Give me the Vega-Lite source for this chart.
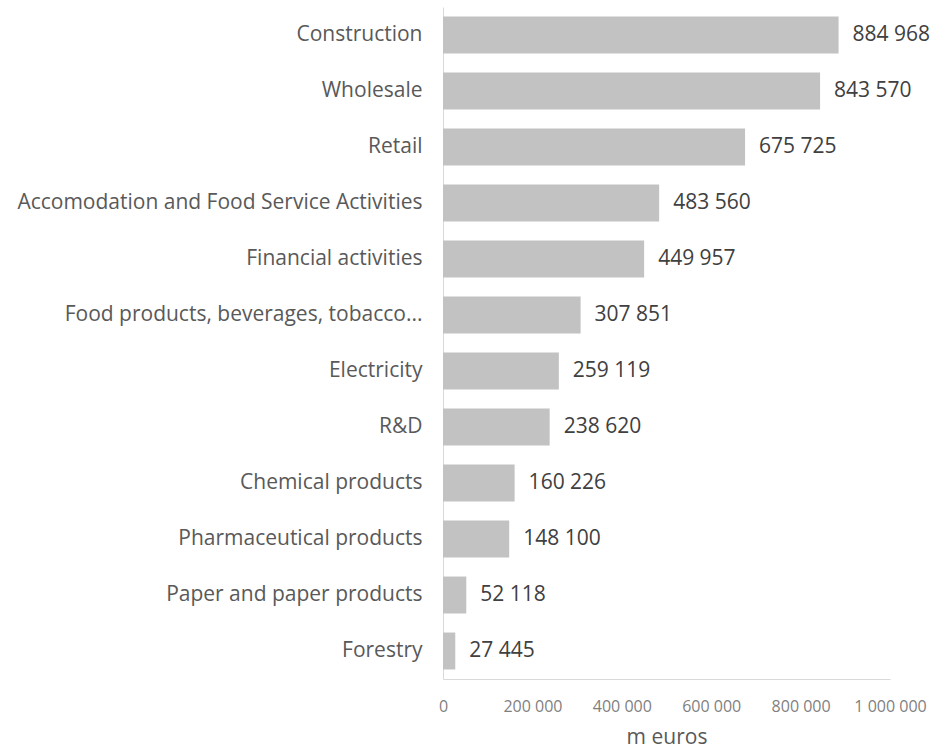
{
  "$schema": "https://vega.github.io/schema/vega-lite/v6.json",
  "autosize": {"type": "none"},
  "width": 447,
  "height": 672,
  "padding": {"left": 443, "top": 7, "right": 48, "bottom": 72},
  "background": "white",
  "config": {"view": {"stroke": null}, "font": "Open Sans"},
  "data": {"values": [
    {"sector": "Construction", "value": 884968, "label": "884 968"},
    {"sector": "Wholesale", "value": 843570, "label": "843 570"},
    {"sector": "Retail", "value": 675725, "label": "675 725"},
    {"sector": "Accomodation and Food Service Activities", "value": 483560, "label": "483 560"},
    {"sector": "Financial activities", "value": 449957, "label": "449 957"},
    {"sector": "Food products, beverages, tobacco...", "value": 307851, "label": "307 851"},
    {"sector": "Electricity", "value": 259119, "label": "259 119"},
    {"sector": "R&D", "value": 238620, "label": "238 620"},
    {"sector": "Chemical products", "value": 160226, "label": "160 226"},
    {"sector": "Pharmaceutical products", "value": 148100, "label": "148 100"},
    {"sector": "Paper and paper products", "value": 52118, "label": "52 118"},
    {"sector": "Forestry", "value": 27445, "label": "27 445"}
  ]},
  "encoding": {
    "y": {"field": "sector", "type": "nominal", "sort": null,
      "scale": {"paddingInner": 0.34, "paddingOuter": 0.17},
      "axis": {"title": null, "ticks": false, "domainColor": "#d9d9d9", "domainWidth": 1,
        "labelFontSize": 21, "labelColor": "#595959", "labelPadding": 21, "labelLimit": 500, "labelFont": "Open Sans"}},
    "x": {"field": "value", "type": "quantitative",
      "scale": {"domain": [0, 1000000]},
      "axis": {"title": "m euros", "values": [0, 200000, 400000, 600000, 800000, 1000000],
        "labelExpr": "replace(format(datum.value, ','), /,/g, ' ')",
        "grid": false, "ticks": false, "domainColor": "#d9d9d9", "labelFlush": false,
        "labelFontSize": 16, "labelColor": "#7f7f7f", "labelPadding": 19,
        "titleFontSize": 21, "titleColor": "#595959", "titleFontWeight": "normal", "titlePadding": 12}}
  },
  "layer": [
    {"mark": {"type": "bar", "color": "#c2c2c2"}},
    {"mark": {"type": "text", "align": "left", "dx": 14, "fontSize": 21, "color": "#404040"},
      "encoding": {"text": {"field": "label"}}}
  ]
}
